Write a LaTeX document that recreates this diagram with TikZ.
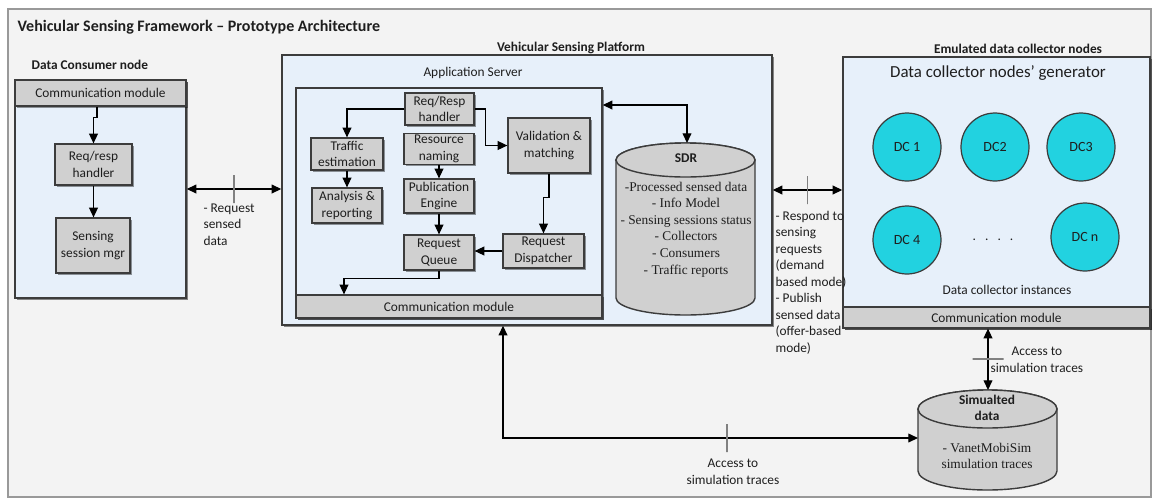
\documentclass[tikz,border=0pt]{standalone}
\usepackage{fontspec}
\setmainfont{Carlito}
\newfontfamily\timesfont{Liberation Serif}
\usetikzlibrary{arrows.meta,shadows}

\definecolor{framebg}{RGB}{243,243,243}
\definecolor{boxblue}{RGB}{231,240,250}
\definecolor{modgray}{RGB}{208,208,208}
\definecolor{dccyan}{RGB}{34,210,224}
\definecolor{edgegray}{RGB}{60,60,60}
\definecolor{txtgray}{RGB}{30,30,30}

\newcommand{\smallfont}{\fontsize{7.6}{9.4}\selectfont}
\newcommand{\boldfont}{\fontsize{7.6}{9.2}\selectfont\bfseries}

\tikzset{
	container/.style={draw=edgegray,fill=boxblue,line width=0.8pt,inner sep=0pt,
		drop shadow={shadow xshift=1.1pt,shadow yshift=-1.1pt,fill=black,opacity=0.45}},
	module/.style={draw=edgegray,fill=modgray,line width=0.7pt,inner sep=1pt,align=center,
		font=\smallfont,text=txtgray,
		drop shadow={shadow xshift=0.9pt,shadow yshift=-0.9pt,fill=black,opacity=0.4}},
	dcnode/.style={circle,draw=edgegray,fill=dccyan,line width=0.7pt,minimum size=13.6mm,
		inner sep=0pt,font=\fontsize{8}{9}\selectfont,text=txtgray},
	note/.style={font=\smallfont,text=txtgray,align=left,inner sep=0pt},
	boldlabel/.style={font=\boldfont,text=txtgray},
	tickv/.style={draw=gray,line width=1.1pt,inner sep=0pt,minimum width=0pt,minimum height=5.6mm},
	tickh/.style={draw=gray,line width=1.1pt,inner sep=0pt,minimum height=0pt,minimum width=6.2mm},
	dbshape/.style={draw=edgegray,fill=modgray,line width=0.8pt}
}

\begin{document}
\begin{tikzpicture}[x=0.2mm,y=0.2mm,>={Triangle[length=5.5pt,width=5pt]},line width=0.7pt]

\useasboundingbox (0,0) rectangle (1157,-501);
\draw[draw=gray!80,fill=framebg,line width=0.6pt] (8,-9) rectangle (1151,-497);

\node[anchor=west,inner sep=0pt,font=\fontsize{9.1}{10}\selectfont\bfseries,text=txtgray] (title) at (17,-27) {Vehicular Sensing Framework -- Prototype Architecture};

% data consumer
\node[anchor=west,inner sep=0pt,boldlabel]	(consumerlbl) at (31,-65)	{Data Consumer node};
\node[container,minimum width=34.2mm,minimum height=43.6mm]	(consumer) at (100.5,-189)	{};
\node[module,minimum width=34.2mm,minimum height=5.2mm]	(ccomm) at (100.5,-93)	{Communication module};
\node[module,minimum width=15.4mm,minimum height=8.2mm]	(crr) at (93.5,-164.5)	{Req/resp\\handler};
\node[module,minimum width=14.8mm,minimum height=11mm]	(csess) at (93,-245.5)	{Sensing\\session mgr};

\draw[->] ([xshift=-0.7mm]ccomm.south) -- ++(0,-11) -| (crr.north);
\path[->] (crr.south) edge (crr.south |- csess.north);

% platform
\node[boldlabel]	(platformlbl) at (571,-48)	{Vehicular Sensing Platform};
\node[container,minimum width=98mm,minimum height=54mm]	(platform) at (527,-190)	{};
\node[font=\smallfont,text=txtgray]	(appsrvlbl) at (473,-73)	{Application Server};
\node[container,minimum width=61.2mm,minimum height=46mm,drop shadow={opacity=0}]	(appsrv) at (449,-203)	{};
\node[module,minimum width=61.2mm,minimum height=4.6mm]	(acomm) at (449,-306.5)	{Communication module};

\node[module,minimum width=13.8mm,minimum height=6.4mm]	(arr) at (439.5,-109)	{Req/Resp\\handler};
\node[module,minimum width=14.4mm,minimum height=6.4mm]	(traffic) at (347,-154)	{Traffic\\estimation};
\node[module,minimum width=14mm,minimum height=7mm]	(analysis) at (347,-205.5)	{Analysis \&\\reporting};
\node[module,minimum width=14mm,minimum height=5.6mm]	(resname) at (439,-149)	{Resource\\naming};
\node[module,minimum width=14mm,minimum height=6.8mm]	(pubeng) at (439,-196)	{Publication\\Engine};
\node[module,minimum width=14mm,minimum height=7mm]	(queue) at (439,-252.5)	{Request\\Queue};
\node[module,minimum width=16.4mm,minimum height=11mm]	(valid) at (549,-145.5)	{Validation \&\\matching};
\node[module,minimum width=16.2mm,minimum height=6.8mm]	(disp) at (543.5,-251)	{Request\\Dispatcher};

\draw[->] (arr.west) -| (traffic.north);
\draw[->] (arr.east) -- ++(11,0) |- (valid.west);
\path[->] (traffic.south)	edge	(traffic.south |- analysis.north)
		(resname.south)	edge	(resname.south |- pubeng.north)
		(pubeng.south)	edge	(pubeng.south |- queue.north)
		(disp.west)	edge	(disp.west -| queue.east);
\draw[->] (valid.south) -- ++(0,-24) -| (disp.north);
\draw[->] (queue.south) -- ++(0,-8) -| ([xshift=-21mm]acomm.north);

% SDR store
\draw[dbshape] (616,-160) -- (616,-298) arc[start angle=180,end angle=360,x radius=13.9mm,y radius=3.4mm]
	-- (755,-160) arc[start angle=0,end angle=180,x radius=13.9mm,y radius=3.4mm] -- cycle;
\draw[dbshape] (685.5,-160) ellipse[x radius=13.9mm,y radius=3.4mm];
\coordinate (sdrtop) at (687,-143);
\node[boldlabel]	(sdr) at (686,-158)	{SDR};
\node[font=\timesfont\fontsize{7.6}{9.4}\selectfont,align=center,text=txtgray,inner sep=0pt]	(sdrtext) at (686,-229.5)
	{-Processed sensed data\\- Info Model\\- Sensing sessions status\\- Collectors\\- Consumers\\- Traffic reports};
\draw[<->] ([yshift=19.6mm]appsrv.east) -| (sdrtop);

% emulated collectors
\node[boldlabel]	(emulbl) at (1018,-49)	{Emulated data collector nodes};
\node[container,minimum width=61.4mm,minimum height=54.2mm]	(emu) at (996.5,-192.5)	{};
\node[module,minimum width=61.4mm,minimum height=4.2mm]	(ecomm) at (996.5,-317.5)	{Communication module};
\node[font=\fontsize{9.6}{11}\selectfont,text=txtgray]	(genlbl) at (998,-73)	{Data collector nodes' generator};
\node[dcnode]	(dc1) at (907,-147)	{DC 1};
\node[dcnode]	(dc2) at (995,-147)	{DC2};
\node[dcnode]	(dc3) at (1081,-147)	{DC3};
\node[dcnode]	(dc4) at (907,-240)	{DC 4};
\node[dcnode]	(dcn) at (1085,-237)	{DC n};
\node[font=\smallfont,text=txtgray]	(dots) at (993,-240)	{.\ \ \ .\ \ \ .\ \ \ .};
\node[font=\smallfont,text=txtgray]	(instlbl) at (1007,-290)	{Data collector instances};

% simulated data
\draw[dbshape] (918,-409) -- (918,-471) arc[start angle=180,end angle=360,x radius=13.9mm,y radius=3.8mm]
	-- (1057,-409) arc[start angle=0,end angle=180,x radius=13.9mm,y radius=3.8mm] -- cycle;
\draw[dbshape] (987.5,-409) ellipse[x radius=13.9mm,y radius=3.8mm];
\coordinate (simtop) at (988,-390);
\coordinate (simwest) at (918,-438);
\node[boldlabel,align=center,inner sep=0pt]	(simlbl) at (987,-408)	{Simualted\\data};
\node[font=\timesfont\fontsize{7.6}{9.4}\selectfont,align=center,text=txtgray,inner sep=0pt]	(simtext) at (987,-456)
	{- VanetMobiSim\\simulation traces};

% links
\draw[<->] (consumer.east) -- (consumer.east -| platform.west) node[pos=0.5,tickv]{};
\node[note,anchor=west]	(reqlbl) at (203,-224.5)	{- Request\\sensed\\data};

\draw[<->] (platform.east) -- (platform.east -| emu.west) node[pos=0.5,tickv]{};
\node[note,anchor=west]	(resplbl) at (775,-282.5)	{- Respond to\\sensing\\requests\\(demand\\based mode)\\- Publish\\sensed data\\(offer-based\\mode)};

\draw[<->] (ecomm.south -| simtop) -- (simtop) node[pos=0.5,tickh]{};
\node[note,anchor=west,align=center]	(acc1lbl) at (990,-360)	{Access to\\simulation traces};

\draw[<->] ([xshift=-4.8mm]platform.south) |- (simwest) node[pos=0.77,tickv]{};
\node[note,align=center]	(acc2lbl) at (733,-472)	{Access to\\simulation traces};

\end{tikzpicture}
\end{document}
